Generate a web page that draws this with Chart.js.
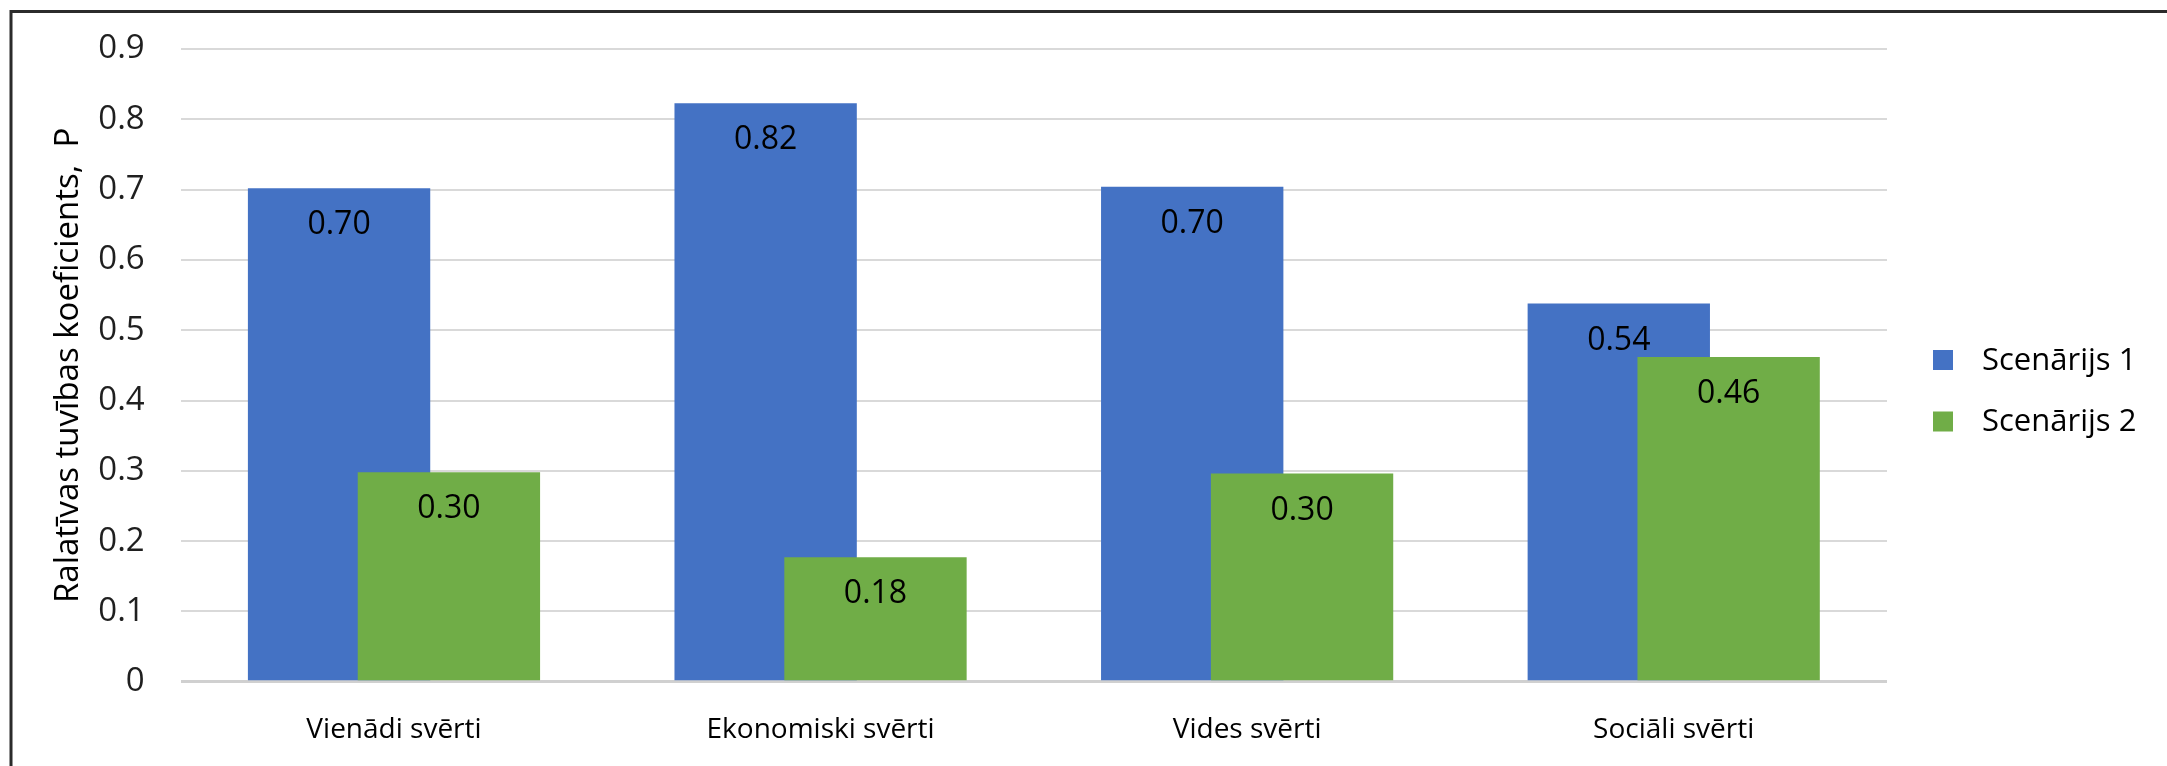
<!DOCTYPE html>
<html>
<head>
<meta charset="utf-8">
<title>Ralatīvas tuvības koeficients</title>
<script src="https://cdn.jsdelivr.net/npm/chart.js@4/dist/chart.umd.min.js"></script>
<style>
  html, body { margin: 0; padding: 0; background: #ffffff; }
  #wrap { width: 2167px; height: 766px; position: relative; }
  canvas { display: block; }
</style>
</head>
<body>
<div id="wrap"><canvas id="chart" width="2167" height="766"></canvas></div>
<script>
// ---- data ----
const categories = ['Vienādi svērti', 'Ekonomiski svērti', 'Vides svērti', 'Sociāli svērti'];
const seriesNames = ['Scenārijs 1', 'Scenārijs 2'];
const scenario1 = [0.702, 0.823, 0.704, 0.538];
const scenario2 = [0.298, 0.177, 0.296, 0.462];
const yTickLabels = ['0', '0.1', '0.2', '0.3', '0.4', '0.5', '0.6', '0.7', '0.8', '0.9'];
const yTitle = 'Ralatīvas tuvības koeficients,  P';

// ---- styling ----
const FONT = "'Open Sans', 'Noto Sans', sans-serif";
const BLUE = '#4472C4';
const GREEN = '#70AD47';
const GRID = '#D9D9D9';

// White background and the frame lines along the top and left edges
const frame = {
  id: 'frame',
  beforeDraw(chart) {
    const c = chart.ctx;
    c.save();
    c.fillStyle = '#ffffff';
    c.fillRect(0, 0, chart.width, chart.height);
    c.restore();
  },
  afterDraw(chart) {
    const c = chart.ctx;
    c.save();
    c.strokeStyle = '#2b2b2b';
    c.lineWidth = 3;
    c.beginPath();
    c.moveTo(9.5, 11.5);
    c.lineTo(chart.width, 11.5);
    c.moveTo(11, 10);
    c.lineTo(11, chart.height);
    c.stroke();
    c.restore();
  }
};

// Bars are drawn in dataset order so the second series sits over the first
const overlapOrder = {
  id: 'overlapOrder',
  beforeDatasetsDraw(chart) {
    chart.data.datasets.forEach((ds, i) => {
      const meta = chart.getDatasetMeta(i);
      if (!meta.hidden) meta.controller.draw();
    });
    return false;
  }
};

// Value labels just inside the top of each bar
const valueLabels = {
  id: 'valueLabels',
  afterDraw(chart) {
    const c = chart.ctx;
    c.save();
    c.font = '32px ' + FONT;
    c.fillStyle = '#000000';
    c.textAlign = 'center';
    c.textBaseline = 'middle';
    chart.data.datasets.forEach((ds, i) => {
      chart.getDatasetMeta(i).data.forEach((bar, j) => {
        c.fillText(ds.data[j].toFixed(2), bar.x, bar.y + 37);
      });
    });
    c.restore();
  }
};

// Legend column to the right of the plot
const sideLegend = {
  id: 'sideLegend',
  afterDraw(chart) {
    const c = chart.ctx;
    const boxX = 1933, firstY = 360, rowGap = 61.5, box = 20, textX = 1982;
    c.save();
    c.font = '31px ' + FONT;
    c.textAlign = 'left';
    c.textBaseline = 'middle';
    chart.data.datasets.forEach((ds, i) => {
      const cy = firstY + i * rowGap;
      c.fillStyle = ds.backgroundColor;
      c.fillRect(boxX, cy - box / 2, box, box);
      c.fillStyle = '#000000';
      c.fillText(ds.label, textX, cy + 1);
    });
    c.restore();
  }
};

new Chart(document.getElementById('chart'), {
  type: 'bar',
  data: {
    labels: categories,
    datasets: [
      { label: seriesNames[0], data: scenario1, backgroundColor: BLUE },
      { label: seriesNames[1], data: scenario2, backgroundColor: GREEN }
    ]
  },
  options: {
    responsive: false,
    animation: false,
    devicePixelRatio: 1,
    layout: { padding: { left: 20, top: 49, right: 280, bottom: 0 } },
    datasets: {
      bar: { barPercentage: 1.66, categoryPercentage: 0.515, borderWidth: 0 }
    },
    plugins: {
      legend: { display: false },
      tooltip: { enabled: false }
    },
    scales: {
      x: {
        grid: { display: false, drawTicks: false },
        border: { display: false },
        ticks: { padding: 32, color: '#000000', font: { family: FONT, size: 28 } },
        afterFit(scale) {
          scale.height = 84.3;
          scale.paddingLeft = 0;
          scale.paddingRight = 0;
        }
      },
      y: {
        min: 0,
        max: 0.9,
        grid: {
          color: (ctx) => ctx.tick && ctx.tick.value === 0 ? '#D0D0D0' : GRID,
          lineWidth: (ctx) => ctx.tick && ctx.tick.value === 0 ? 3 : 2,
          drawTicks: false
        },
        border: { display: false },
        ticks: {
          stepSize: 0.1,
          padding: 36,
          color: '#1f1f1f',
          font: { family: FONT, size: 33 },
          callback: (v) => yTickLabels[Math.round(v * 10)]
        },
        title: {
          display: true,
          text: yTitle,
          color: '#000000',
          font: { family: FONT, size: 33 },
          padding: { top: 29, bottom: 0 }
        },
        afterFit(scale) {
          scale.width = 160.7;
          scale.paddingTop = 0;
          scale.paddingBottom = 0;
        }
      }
    }
  },
  plugins: [frame, overlapOrder, valueLabels, sideLegend]
});
</script>
</body>
</html>
